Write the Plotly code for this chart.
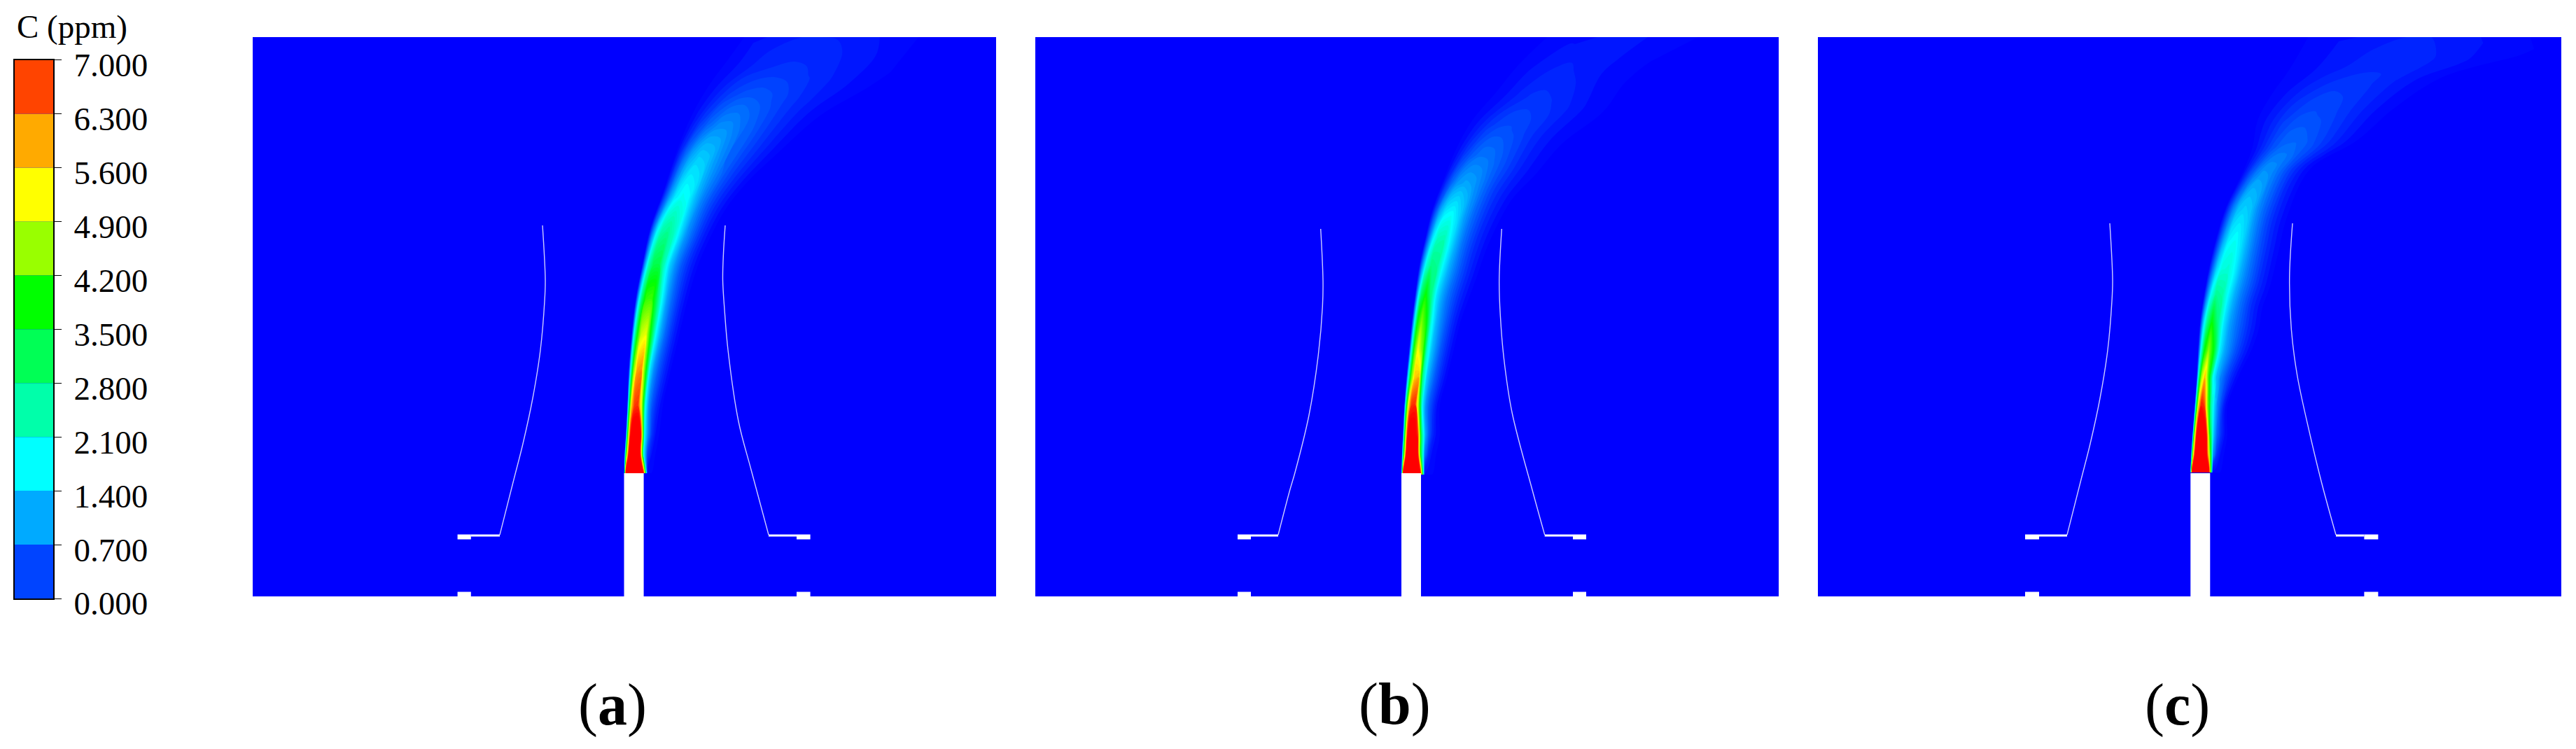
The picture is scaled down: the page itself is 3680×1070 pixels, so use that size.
import plotly.graph_objects as go

# legend
band_low = [0.0, 0.7, 1.4, 2.1, 2.8, 3.5, 4.2, 4.9, 5.6, 6.3]
band_height = [0.7, 0.7, 0.7, 0.7, 0.7, 0.7, 0.7, 0.7, 0.7, 0.7]
band_colors = ["#0044ff", "#00aaff", "#00ffff", "#00ffaa", "#00ff55",
               "#00ff00", "#99ff00", "#ffff00", "#ffaa00", "#ff4400"]
legend_ticks = [0, 0.7, 1.4, 2.1, 2.8, 3.5, 4.2, 4.9, 5.6, 6.3, 7]
legend_labels = ["0.000", "0.700", "1.400", "2.100", "2.800", "3.500",
                 "4.200", "4.900", "5.600", "6.300", "7.000"]

# position across the plume, 0 = left edge, 1 = right edge
across = [0, 0.05, 0.12, 0.2, 0.3, 0.4, 0.5, 0.6, 0.7, 0.8, 0.9, 1]

# panel (a): plume edges at each station, and C (ppm) read across each station
a_left_x = [530.5, 531, 533, 535, 537, 541, 546.5, 556, 568, 586, 606, 627, 653, 679, 702]
a_left_h = [176, 202, 232, 272, 322, 372, 422, 472, 527, 577, 637, 687, 732, 767, 799]
a_right_x = [586, 586, 586, 586, 597, 609, 621, 636, 651, 675, 705, 751, 811, 879, 979]
a_right_h = [176, 202, 232, 272, 322, 372, 422, 472, 507, 552, 590, 634, 687, 727, 799]
a_c = [
    [0, 7.5, 8, 8, 8, 8, 7, 0, 0, 0, 0, 0],
    [0, 4, 7.6, 8, 8, 7.6, 1.8, 0.4, 0.1, 0, 0, 0],
    [0, 3.5, 6.8, 7.6, 7.6, 7.2, 1.8, 0.9, 0.35, 0.1, 0, 0],
    [0, 2.8, 5.6, 6.6, 6.7, 5, 1.9, 1.0, 0.55, 0.3, 0.12, 0],
    [0, 1.9, 4.4, 5.9, 6.1, 3.8, 1.6, 0.95, 0.6, 0.35, 0.15, 0],
    [0, 1.75, 3.5, 4.9, 5.2, 3.4, 1.8, 1.15, 0.7, 0.4, 0.16, 0],
    [0, 1.3, 2.8, 3.9, 4.0, 3.0, 1.8, 1.1, 0.7, 0.4, 0.16, 0],
    [0, 1.1, 2.3, 3.0, 3.05, 2.1, 1.4, 0.95, 0.6, 0.35, 0.15, 0],
    [0, 0.7, 1.6, 2.3, 2.5, 2.2, 1.6, 1.05, 0.7, 0.4, 0.16, 0],
    [0, 0.45, 1.05, 1.6, 1.85, 1.75, 1.3, 0.9, 0.6, 0.35, 0.16, 0],
    [0, 0.25, 0.7, 1.15, 1.45, 1.4, 1.1, 0.85, 0.58, 0.36, 0.17, 0],
    [0, 0.12, 0.35, 0.65, 0.95, 1.0, 0.85, 0.68, 0.47, 0.3, 0.14, 0],
    [0, 0.07, 0.2, 0.38, 0.52, 0.58, 0.55, 0.46, 0.34, 0.22, 0.1, 0],
    [0, 0.06, 0.14, 0.22, 0.3, 0.34, 0.33, 0.29, 0.22, 0.15, 0.07, 0],
    [0, 0.08, 0.14, 0.18, 0.2, 0.2, 0.19, 0.15, 0.1, 0.07, 0.04, 0],
]
a_stack = [530.5, 558.6]
a_boxes = [292.6, 311.8, 777, 796.6]
a_wall_left_x = [353, 373, 386, 400, 411, 417, 418, 414]
a_wall_left_h = [88, 167, 218, 283, 352, 422, 452, 530]
a_wall_right_x = [737, 712, 694, 679, 674, 671.5, 672.5, 675]
a_wall_right_h = [88, 181, 250, 352, 410, 452, 490, 530]

# panel (b)
b_left_x = [523, 523.5, 525, 527, 530, 534, 538, 543, 549, 558, 566, 584, 601, 624, 658, 688, 731]
b_left_h = [174, 202, 231, 272, 312, 353, 394, 435, 476, 516, 549, 598, 639, 680, 720, 757, 799]
b_right_x = [578, 578, 578, 578, 588, 598, 608, 618, 631, 643, 656, 681, 714, 753, 811, 851, 971]
b_right_h = [174, 202, 231, 272, 312, 353, 394, 422, 457, 492, 522, 567, 602, 647, 692, 742, 799]
b_c = [
    [0, 7.5, 8, 8, 8, 8, 7, 0, 0, 0, 0, 0],
    [0, 3.5, 7.4, 8, 8, 8, 3.2, 0.8, 0.25, 0.05, 0, 0],
    [0, 3.2, 6.8, 7.4, 7.3, 6.8, 2.8, 1.2, 0.6, 0.25, 0.08, 0],
    [0, 2.6, 5.4, 6.7, 6.8, 4.6, 1.8, 1.0, 0.6, 0.35, 0.12, 0],
    [0, 1.9, 4.1, 5.6, 5.9, 2.6, 1.4, 0.95, 0.6, 0.35, 0.15, 0],
    [0, 1.7, 3.9, 5.2, 4.2, 2.1, 1.35, 0.95, 0.6, 0.35, 0.15, 0],
    [0, 1.5, 3.5, 4.3, 3.5, 1.9, 1.25, 0.9, 0.6, 0.35, 0.15, 0],
    [0, 1.3, 2.8, 3.5, 2.6, 1.6, 1.15, 0.8, 0.55, 0.32, 0.14, 0],
    [0, 0.9, 2.0, 2.6, 2.5, 1.7, 1.2, 0.85, 0.55, 0.32, 0.14, 0],
    [0, 0.7, 1.6, 2.2, 2.3, 1.7, 1.2, 0.8, 0.52, 0.3, 0.14, 0],
    [0, 0.5, 1.2, 1.7, 1.85, 1.55, 1.1, 0.75, 0.5, 0.28, 0.13, 0],
    [0, 0.25, 0.65, 1.0, 1.15, 1.1, 0.9, 0.65, 0.42, 0.25, 0.12, 0],
    [0, 0.12, 0.35, 0.6, 0.8, 0.8, 0.68, 0.52, 0.35, 0.2, 0.09, 0],
    [0, 0.07, 0.2, 0.36, 0.5, 0.52, 0.47, 0.38, 0.26, 0.15, 0.07, 0],
    [0, 0.05, 0.12, 0.22, 0.32, 0.34, 0.31, 0.26, 0.19, 0.11, 0.05, 0],
    [0, 0.04, 0.09, 0.14, 0.2, 0.22, 0.2, 0.17, 0.12, 0.07, 0.03, 0],
    [0, 0.03, 0.06, 0.09, 0.12, 0.13, 0.12, 0.1, 0.07, 0.05, 0.02, 0],
]
b_stack = [523, 551]
b_boxes = [289, 308, 768, 787]
b_wall_left_x = [347, 363.7, 371, 391, 404.3, 410.3, 411, 407.7]
b_wall_left_h = [88, 152, 177, 259, 345, 414, 451, 525]
b_wall_right_x = [727.7, 710, 681, 669.3, 664.3, 662.7, 666.3]
b_wall_right_h = [88, 152, 263, 341, 402, 451, 525]

# panel (c)
c_left_x = [532, 533, 535, 538, 541, 543, 546, 552, 560, 570, 583, 603, 620, 628, 648, 673, 700]
c_left_h = [177, 202, 231, 271, 312, 353, 394, 435, 476, 516, 557, 598, 639, 680, 717, 752, 799]
c_right_x = [585, 585, 585, 585, 600, 620, 630, 635, 646, 658, 670, 703, 770, 823, 893, 1003, 1053]
c_right_h = [177, 202, 231, 271, 312, 353, 382, 412, 443, 492, 541, 610, 651, 697, 742, 773, 799]
c_c = [
    [0, 7.5, 8, 8, 8, 8, 7.5, 0, 0, 0, 0, 0],
    [0, 4.5, 7.8, 8, 8, 8, 5, 1.1, 0.35, 0.1, 0, 0],
    [0, 4, 7, 7.7, 7.6, 7, 3.4, 1.4, 0.7, 0.35, 0.12, 0],
    [0, 2.6, 5.6, 6.9, 6.7, 4.4, 2.4, 1.5, 0.9, 0.5, 0.15, 0],
    [0, 2.4, 4.7, 5.8, 3.7, 1.8, 1.25, 0.85, 0.55, 0.33, 0.14, 0],
    [0, 1.6, 3.4, 4.4, 3.3, 1.7, 1.15, 0.85, 0.55, 0.33, 0.14, 0],
    [0, 1.2, 2.5, 3.5, 2.6, 1.6, 1.1, 0.8, 0.55, 0.32, 0.14, 0],
    [0, 0.8, 1.8, 2.5, 2.4, 1.7, 1.2, 0.85, 0.58, 0.32, 0.14, 0],
    [0, 0.6, 1.4, 1.95, 2.05, 1.7, 1.2, 0.85, 0.58, 0.32, 0.14, 0],
    [0, 0.45, 1.1, 1.65, 1.8, 1.55, 1.15, 0.8, 0.52, 0.3, 0.13, 0],
    [0, 0.35, 0.85, 1.3, 1.45, 1.35, 1.0, 0.72, 0.48, 0.27, 0.12, 0],
    [0, 0.22, 0.55, 0.85, 1.05, 1.0, 0.82, 0.62, 0.42, 0.25, 0.11, 0],
    [0, 0.12, 0.32, 0.55, 0.72, 0.72, 0.62, 0.48, 0.33, 0.2, 0.09, 0],
    [0, 0.08, 0.2, 0.36, 0.5, 0.52, 0.47, 0.38, 0.27, 0.16, 0.07, 0],
    [0, 0.05, 0.14, 0.25, 0.34, 0.38, 0.35, 0.29, 0.21, 0.13, 0.06, 0],
    [0, 0.05, 0.1, 0.17, 0.23, 0.26, 0.25, 0.21, 0.15, 0.09, 0.04, 0],
    [0, 0.04, 0.09, 0.14, 0.18, 0.2, 0.2, 0.17, 0.12, 0.07, 0.03, 0],
]
c_stack = [532.3, 560.3]
c_boxes = [296, 316, 780.4, 800.4]
c_wall_left_x = [356, 376, 389, 403, 414, 420, 421, 417]
c_wall_left_h = [88, 167, 218, 283, 352, 422, 452, 533]
c_wall_right_x = [740, 719.7, 703, 684.7, 676.3, 673.7, 678]
c_wall_right_h = [88, 162, 231, 316, 382, 455, 533]

plume_colors = [[0, "#0000ff"], [0.25, "#00ffff"], [0.5, "#00ff00"], [0.75, "#ffff00"], [1, "#ff0000"]]
SERIF = "Liberation Serif"
W, H = 3680, 1070

panels = [
    ("", 361, a_left_x, a_left_h, a_right_x, a_right_h, a_c, a_stack, a_boxes,
     a_wall_left_x, a_wall_left_h, a_wall_right_x, a_wall_right_h),
    ("2", 1479, b_left_x, b_left_h, b_right_x, b_right_h, b_c, b_stack, b_boxes,
     b_wall_left_x, b_wall_left_h, b_wall_right_x, b_wall_right_h),
    ("3", 2597, c_left_x, c_left_h, c_right_x, c_right_h, c_c, c_stack, c_boxes,
     c_wall_left_x, c_wall_left_h, c_wall_right_x, c_wall_right_h),
]

fig = go.Figure()
layout_axes = {}

for n, start, lx, lh, rx, rh, conc, stack, boxes, wlx, wlh, wrx, wrh in panels:
    xa, ya = "x" + n, "y" + n
    stations = list(range(len(lx)))
    steps = list(range(len(across)))

    # carpet that follows the plume, with one row per position across it
    grid_x = [[lx[i] + f * (rx[i] - lx[i]) for i in stations] for f in across]
    grid_y = [[lh[i] + f * (rh[i] - lh[i]) for i in stations] for f in across]
    z = [[conc[i][j] for i in stations] for j in steps]

    hidden = dict(showgrid=False, showline=False, showticklabels="none",
                  startline=False, endline=False, minorgridcount=0)
    fig.add_trace(go.Carpet(
        a=stations, b=steps, x=grid_x, y=grid_y, carpet="plume" + n,
        aaxis=dict(smoothing=1, **hidden), baxis=dict(smoothing=0, **hidden),
        xaxis=xa, yaxis=ya,
    ))
    fig.add_trace(go.Contourcarpet(
        a=stations, b=steps, z=z, carpet="plume" + n, xaxis=xa, yaxis=ya,
        colorscale=plume_colors, zmin=0, zmax=7, showscale=False,
        autocontour=False,
        contours=dict(start=0, end=7, size=0.1, coloring="fill", showlines=False),
        line=dict(width=0),
    ))

    # stack and the two small openings on each side
    rects_x, rects_y = [], []
    for x0, x1, h0, h1 in [(stack[0], stack[1], 0, 176),
                           (boxes[0], boxes[1], 0, 6.5), (boxes[0], boxes[1], 81.5, 88.5),
                           (boxes[2], boxes[3], 0, 6.5), (boxes[2], boxes[3], 81.5, 88.5)]:
        rects_x += [x0, x1, x1, x0, x0, None]
        rects_y += [h0, h0, h1, h1, h0, None]
    fig.add_trace(go.Scatter(x=rects_x, y=rects_y, mode="lines", fill="toself",
                             fillcolor="white", line=dict(width=0), xaxis=xa, yaxis=ya,
                             hoverinfo="skip"))

    # ledges and curved walls
    for wx, wh, ledge in [(wlx, wlh, [boxes[1], wlx[0]]), (wrx, wrh, [wrx[0], boxes[2]])]:
        fig.add_trace(go.Scatter(x=ledge, y=[87, 87], mode="lines",
                                 line=dict(color="white", width=3), xaxis=xa, yaxis=ya,
                                 hoverinfo="skip"))
        fig.add_trace(go.Scatter(x=wx, y=wh, mode="lines",
                                 line=dict(color="rgba(255,255,255,0.8)", width=1.4, shape="spline"),
                                 xaxis=xa, yaxis=ya, hoverinfo="skip"))

    layout_axes["xaxis" + n] = dict(domain=[start / W, (start + 1062) / W], range=[0, 1062],
                                    visible=False, anchor=ya, automargin=False)
    layout_axes["yaxis" + n] = dict(domain=[(H - 852) / H, (H - 53) / H], range=[0, 799],
                                    visible=False, anchor=xa, automargin=False)

# legend bar, drawn with its own axes
fig.add_trace(go.Bar(x=[0] * len(band_low), y=band_height, base=band_low, width=1,
                     marker=dict(color=band_colors, line=dict(width=0)),
                     xaxis="x4", yaxis="y4"))
layout_axes["xaxis4"] = dict(domain=[21 / W, 76 / W], range=[-0.5, 0.5], showticklabels=False,
                             ticks="", showgrid=False, zeroline=False, showline=True,
                             linecolor="black", linewidth=2, mirror=True, anchor="y4",
                             automargin=False)
layout_axes["yaxis4"] = dict(domain=[(H - 855) / H, (H - 85.5) / H], range=[0, 7], side="right",
                             tickmode="array", tickvals=legend_ticks, ticktext=legend_labels,
                             ticks="outside", ticklen=10, tickwidth=1, tickcolor="black",
                             showgrid=False, zeroline=False, showline=True, linecolor="black",
                             linewidth=2, mirror=True, anchor="x4", automargin=False,
                             ticklabelstandoff=8, ticklabelshift=7,
                             tickfont=dict(family=SERIF, size=47, color="black"))

notes = [
    dict(text="C (ppm)", x=22 / W, y=1 - 38 / H, xanchor="left", font_size=47),
    dict(text="(<b>a</b>)", x=875 / W, y=1 - 1007 / H, xanchor="center", font_size=84),
    dict(text="(<b>b</b>)", x=1992 / W, y=1 - 1006 / H, xanchor="center", font_size=84),
    dict(text="(<b>c</b>)", x=3110 / W, y=1 - 1007 / H, xanchor="center", font_size=84),
]
annotations = [dict(text=a["text"], x=a["x"], y=a["y"], xref="paper", yref="paper",
                    xanchor=a["xanchor"], yanchor="middle", showarrow=False,
                    font=dict(family=SERIF, size=a["font_size"], color="black")) for a in notes]

fig.update_layout(width=W, height=H, margin=dict(l=0, r=0, t=0, b=0), showlegend=False,
                  paper_bgcolor="white", plot_bgcolor="#0000ff", annotations=annotations,
                  **layout_axes)

fig.write_html("out.html", config={"displayModeBar": False},
               post_script="document.body.style.margin='0';")
